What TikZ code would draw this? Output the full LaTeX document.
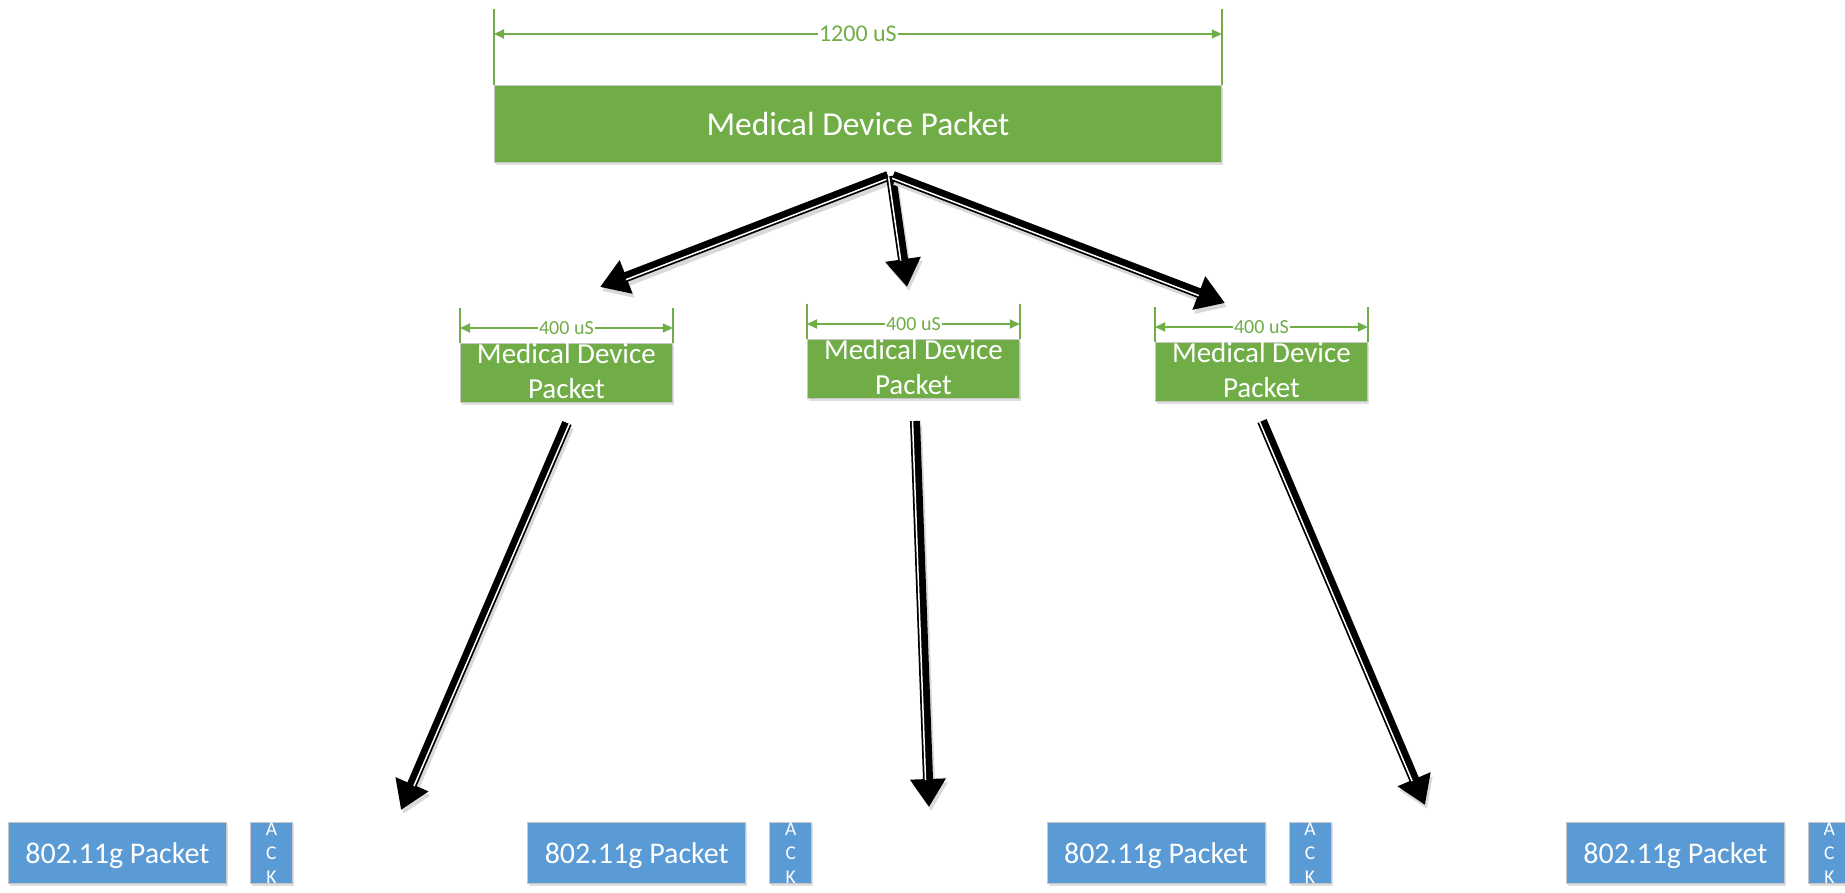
\documentclass[tikz,border=0pt]{standalone}
\usepackage{fontspec}
\setmainfont{Carlito}
\usetikzlibrary{arrows.meta,calc,shadows}
\definecolor{pgreen}{HTML}{70AD47}
\definecolor{pblue}{HTML}{5B9BD5}
\tikzset{
  box/.style={draw=black!22, line width=0.8pt, inner sep=0pt,
    drop shadow={shadow xshift=1.5pt, shadow yshift=-3pt, opacity=0.25}},
  greenbox/.style={box, fill=pgreen},
  bluebox/.style={box, fill=pblue},
  dimline/.style={draw=pgreen, line width=1.8pt,
    {Triangle[length=10pt,width=9pt]}-{Triangle[length=10pt,width=9pt]}},
  dimtick/.style={draw=pgreen, line width=1.5pt},
  dimlabel/.style={fill=white, text=pgreen, inner sep=1.5pt},
  bigtext/.style={text=white, inner sep=0pt, font=\fontsize{33.5}{40}\selectfont},
  midtext/.style={text=white, inner sep=0pt, align=center, font=\fontsize{29}{35}\selectfont},
  packtext/.style={text=white, inner sep=0pt, font=\fontsize{30}{36}\selectfont},
  acktext/.style={text=white, inner sep=0pt, align=center, font=\fontsize{19.5}{24}\selectfont},
  fat/.style={draw=black, line width=10pt, -{Triangle[length=28pt,width=34pt]}},
  fatshadow/.style={draw=black!15, line width=10pt, -{Triangle[length=28pt,width=34pt]}},
  gapline/.style={draw=white, line width=1.5pt},
}
\newcommand\fatarrow[4]{%
  \draw[fatshadow] ($(#1)+(2,4)$) -- ($(#2)+(2,4)$);
  \draw[fat] (#1) -- (#2);
  \draw[gapline, shorten >=27pt] ($(#1)!2.5pt!#3:(#2)$) -- ($(#2)!2.5pt!#4:(#1)$);
}
\begin{document}
\begin{tikzpicture}[x=1pt,y=-1pt]
\useasboundingbox (0,0) rectangle (1845,893);

% top packet
\node[greenbox, anchor=north west, minimum width=727pt, minimum height=77pt] (top) at (494,85) {};
\node[bigtext, anchor=base] (toptext) at ($(top.north)+(0,51)$) {Medical Device Packet};
\draw[dimtick] ($(top.north west)+(0,-76)$) coordinate (tl) -- (top.north west);
\draw[dimtick] ($(top.north east)+(0,-76)$) coordinate (tr) -- (top.north east);
\draw[dimline] ($(top.north west)+(0,-51)$) coordinate (dtl) -- ($(top.north east)+(0,-51)$) coordinate (dtr)
  node[midway, dimlabel, font=\fontsize{24}{28}\selectfont] (toplabel) {1200 uS};

% middle packets
\foreach \n/\x/\y in {m1/460/343, m2/807/339, m3/1155/342} {
  \node[greenbox, anchor=north west, minimum width=212pt, minimum height=59pt] (\n) at (\x,\y) {};
  \node[midtext, anchor=north] (\n t) at (\n.north) {Medical Device\\Packet};
  \draw[dimtick] ($(\n.north west)+(0,-35)$) -- (\n.north west);
  \draw[dimtick] ($(\n.north east)+(0,-35)$) -- (\n.north east);
  \draw[dimline] ($(\n.north west)+(0,-15)$) -- ($(\n.north east)+(0,-15)$)
    node[midway, dimlabel, font=\fontsize{20}{24}\selectfont] (\n l) {400 uS};
}

% bottom packets
\foreach \i in {0,1,2,3} {
  \pgfmathsetmacro\xa{8+519.3*\i}
  \pgfmathsetmacro\xb{8+519.3*\i+242}
  \node[bluebox, anchor=north west, minimum width=218pt, minimum height=61pt] (p\i) at (\xa,822) {};
  \node[packtext, anchor=base] (pt\i) at ($(p\i.north)+(0,41)$) {802.11g Packet};
  \node[bluebox, anchor=north west, minimum width=42pt, minimum height=61pt] (k\i) at (\xb,822) {};
  \node[acktext, anchor=north] (kt\i) at ($(k\i.north)+(0,1)$) {A\\C\\K};
}

% arrows
\coordinate (a1s) at (888,176);  \coordinate (a1e) at (600,287);
\coordinate (a2s) at (891,176);  \coordinate (a2e) at (907,287);
\coordinate (a3s) at (893,176);  \coordinate (a3e) at (1225,303);
\coordinate (b1s) at (567,423);  \coordinate (b1e) at (401,810);
\coordinate (b2s) at (915,421);  \coordinate (b2e) at (929,807);
\coordinate (b3s) at (1262,421); \coordinate (b3e) at (1425,805);

\fatarrow{a1s}{a1e}{90}{-90}
\fatarrow{a2s}{a2e}{-90}{90}
\fatarrow{a3s}{a3e}{-90}{90}
\fatarrow{b1s}{b1e}{90}{-90}
\fatarrow{b2s}{b2e}{-90}{90}
\fatarrow{b3s}{b3e}{-90}{90}
\end{tikzpicture}
\end{document}
